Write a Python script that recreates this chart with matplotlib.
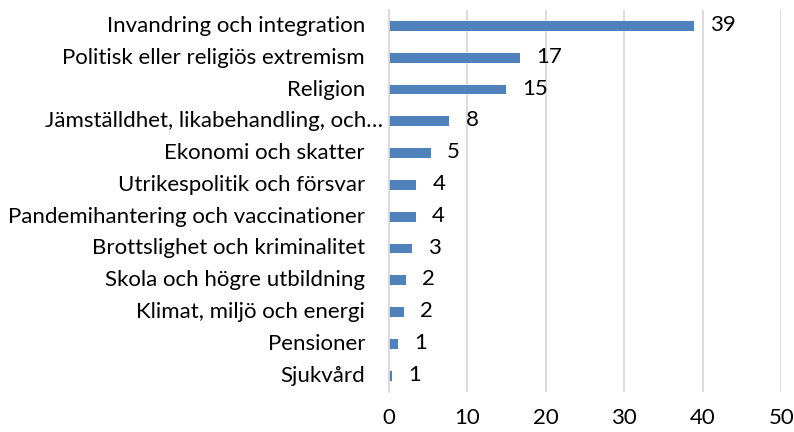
import matplotlib
matplotlib.use("Agg")
import matplotlib.pyplot as plt
from matplotlib.transforms import offset_copy

categories = [
    "Invandring och integration",
    "Politisk eller religiös extremism",
    "Religion",
    "Jämställdhet, likabehandling, och…",
    "Ekonomi och skatter",
    "Utrikespolitik och försvar",
    "Pandemihantering och vaccinationer",
    "Brottslighet och kriminalitet",
    "Skola och högre utbildning",
    "Klimat, miljö och energi",
    "Pensioner",
    "Sjukvård",
]
values = [38.85, 16.7, 14.9, 7.7, 5.3, 3.5, 3.4, 2.9, 2.2, 1.95, 1.2, 0.4]
value_labels = ["39", "17", "15", "8", "5", "4", "4", "3", "2", "2", "1", "1"]
xticks = [0, 10, 20, 30, 40, 50]

plt.rcParams['font.family'] = ['Lato', 'DejaVu Sans']
fs = 16

fig = plt.figure(figsize=(7.94, 4.32), dpi=100)
ax = fig.add_axes([389/794, 1 - 391.6/432, (781.3 - 389)/794, (391.6 - 10)/432])

n = len(categories)
ypos = list(range(n))
ax.barh(ypos, values, height=0.31, color="#4F81BD", zorder=3)
ax.set_ylim(n - 0.5, -0.5)
ax.set_xlim(0, 50)
ax.set_xticks(xticks)
ax.set_xticklabels([str(t) for t in xticks], fontsize=fs)
ax.tick_params(axis='x', length=0, pad=12)
ax.set_yticks([])
ax.grid(axis='x', color="#D9D9D9", linewidth=1.3, zorder=0)
for s in ['top', 'right', 'bottom']:
    ax.spines[s].set_visible(False)
ax.spines['left'].set_color("#D9D9D9")
ax.spines['left'].set_linewidth(1.3)
ax.spines['left'].set_zorder(4)

ytr = ax.get_yaxis_transform()
for i, c in enumerate(categories):
    off = -6 if c.endswith("…") else -24
    tr = offset_copy(ytr, fig=fig, x=off, y=0, units='dots')
    ax.text(0, i, c, transform=tr, ha='right', va='center', fontsize=fs)

for i, (v, lab) in enumerate(zip(values, value_labels)):
    tr = offset_copy(ax.transData, fig=fig, x=16, y=1, units='dots')
    ax.text(v, i, lab, transform=tr, ha='left', va='center', fontsize=fs)

fig.savefig("out.png", dpi=100)
